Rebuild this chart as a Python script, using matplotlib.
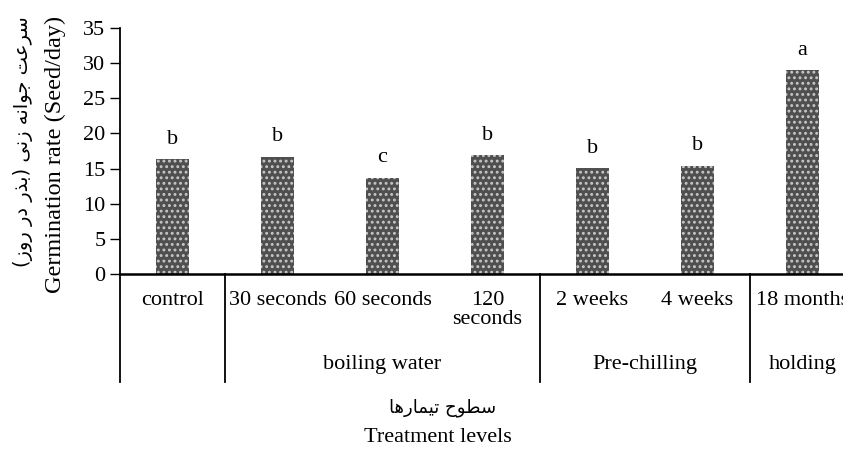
import matplotlib
matplotlib.use("Agg")
import matplotlib.pyplot as plt
import matplotlib.transforms as mtransforms

# data
treatments = ["control", "30 seconds", "60 seconds", "120\nseconds",
              "2 weeks", "4 weeks", "18 months"]
rates = [16.3, 16.7, 13.7, 16.9, 15.1, 15.4, 29.0]
letters = ["b", "b", "c", "b", "b", "b", "a"]
groups = ["", "boiling water", "Pre-chilling", "holding"]
group_spans = [(0, 0), (1, 3), (4, 5), (6, 6)]

# Persian labels, already shaped (presentation forms) and in visual order
# logical text: "سرعت جوانه زنی (بذر در روز)"
fa_ylabel = ("(\uFEAF\uFEED\uFEAD \uFEAD\uFEA9 \uFEAD\uFEAC\uFE91) "
             "\uFEF0\uFEE7\uFEAF \uFEEA\uFEE7\uFE8D\uFEEE\uFE9F "
             "\uFE96\uFECB\uFEAE\uFEB3")
# logical text: "سطوح تیمارها"
fa_xlabel = ("\uFE8E\uFEEB\uFEAD\uFE8E\uFEE4\uFEF4\uFE97 "
             "\uFEA1\uFEEE\uFEC4\uFEB3")

serif = ["Liberation Serif", "DejaVu Sans"]
plt.rcParams["font.family"] = serif
plt.rcParams["hatch.linewidth"] = 1.3

W, H = 843, 451
fig = plt.figure(figsize=(W / 100, H / 100), dpi=100)
x0, x1, y0, y1 = 120, 855, 274, 28
ax = fig.add_axes([x0 / W, (H - y0) / H, (x1 - x0) / W, (y0 - y1) / H])

pos = list(range(len(treatments)))
bars = ax.bar(pos, rates, width=0.31, color="#4f4f4f", edgecolor="#c8c8c8",
              linewidth=0, hatch="...")

for p, v, t in zip(pos, rates, letters):
    ax.annotate(t, (p, v), xytext=(0, 11), textcoords="offset points",
                ha="center", va="baseline", fontsize=16)

ax.set_xlim(-0.5, len(treatments) - 0.5)
ax.set_ylim(0, 35)
ax.set_yticks(range(0, 36, 5))
ax.set_xticks([])
ax.tick_params(axis="y", labelsize=16, length=7, width=1, direction="out")
for s in ["top", "right"]:
    ax.spines[s].set_visible(False)
ax.spines["left"].set_linewidth(1.3)
ax.spines["bottom"].set_linewidth(1.8)

# category table below the axis
trans = mtransforms.blended_transform_factory(ax.transData, ax.transAxes)
bottom = (y0 - 382) / (y0 - y1)
for b in [-0.5, 0.5, 3.5, 5.5]:
    ax.plot([b, b], [0, bottom], color="black", lw=1.3, transform=trans,
            clip_on=False)

row1 = (y0 - 291) / (y0 - y1)
for p, t in zip(pos, treatments):
    ax.text(p, row1, t, transform=trans, ha="center", va="top",
            fontsize=16, linespacing=1.0)

row2 = (y0 - 364) / (y0 - y1)
for g, (a, b) in zip(groups, group_spans):
    ax.text((a + b) / 2, row2, g, transform=trans, ha="center", va="center",
            fontsize=16)

# axis titles
fig.text(443 / W, (H - 408) / H, fa_xlabel, ha="center", va="center",
         fontsize=13, family=["DejaVu Sans"])
fig.text(438 / W, (H - 438) / H, "Treatment levels", ha="center",
         va="center", fontsize=16)
fig.text(55 / W, (H - 154) / H, "Germination rate (Seed/day)", rotation=90,
         ha="center", va="center", fontsize=17.5)
fig.text(23 / W, (H - 142) / H, fa_ylabel, rotation=90, ha="center",
         va="center", fontsize=14, family=["DejaVu Sans"])

fig.savefig("out.png", dpi=100)
